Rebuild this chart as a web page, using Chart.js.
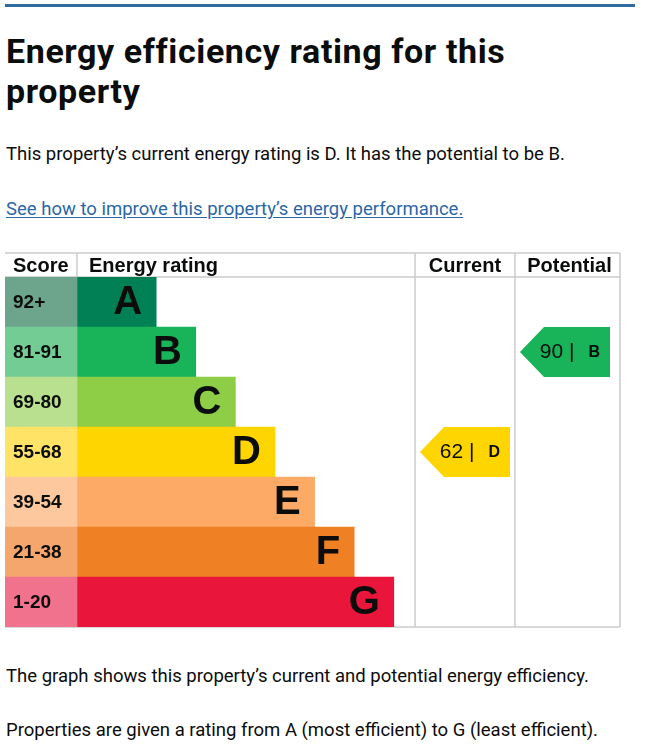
<!DOCTYPE html>
<html>
<head>
<meta charset="utf-8">
<script src="https://cdn.jsdelivr.net/npm/chart.js@4.4.0/dist/chart.umd.min.js"></script>
<style>
  html, body { margin: 0; padding: 0; background: #fff; }
  body { width: 649px; height: 749px; position: relative; overflow: hidden; color: #0b0c0c; font-family: Roboto, "Noto Sans", sans-serif; }
  .rule { position: absolute; left: 5px; top: 4px; width: 630px; height: 3px; background: #2f6b9e; }
  h1 { position: absolute; left: 6px; top: 31px; margin: 0; font-size: 34px; line-height: 40px; font-weight: 700; letter-spacing: 0.6px; }
  .txt { position: absolute; left: 6px; margin: 0; font-size: 18.5px; line-height: 18.5px; letter-spacing: 0; white-space: nowrap; }
  a { color: #2b67a5; text-decoration: underline; text-underline-offset: 2px; }
  #epc { position: absolute; left: 5px; top: 252px; }
</style>
</head>
<body>
<div class="rule"></div>
<h1>Energy efficiency rating for this<br>property</h1>
<p class="txt" style="top:145px">This property’s current energy rating is D. It has the potential to be B.</p>
<p class="txt" style="top:200px"><a href="#">See how to improve this property’s energy performance.</a></p>
<canvas id="epc" width="617" height="376"></canvas>
<p class="txt" style="top:667px">The graph shows this property’s current and potential energy efficiency.</p>
<p class="txt" style="top:721px">Properties are given a rating from A (most efficient) to G (least efficient).</p>

<script>
const ratingBands = ["A", "B", "C", "D", "E", "F", "G"];
const scoreRanges = ["92+", "81-91", "69-80", "55-68", "39-54", "21-38", "1-20"];
const barLengths = [2, 3, 4, 5, 6, 7, 8];

const currentScore = 62;
const currentBand = "D";
const potentialScore = 90;
const potentialBand = "B";

const BAND_COLORS = ["#008054", "#19b459", "#8dce46", "#ffd500", "#fcaa65", "#ef8023", "#e9153b"];
const SCORE_COLORS = ["#6da58c", "#74cc95", "#b9e08e", "#ffe366", "#fdc89e", "#f5a66c", "#f0728c"];

// x scale units: 0 = start of the rating bars, score column to the left
const X_MIN = -1.818;
const X_MAX = 13.712;
const COL_CURRENT = 8.535;
const COL_POTENTIAL = 11.06;
const LABEL_FONT = '"Liberation Sans", Arial, sans-serif';
const LINE_COLOR = "#cbcbcb";

const epcPlugin = {
  id: "epc",
  beforeDatasetsDraw(chart) {
    const { ctx, chartArea } = chart;
    const x = chart.scales.x;
    ctx.save();
    ctx.strokeStyle = LINE_COLOR;
    ctx.lineWidth = 1.5;
    ctx.beginPath();
    // table top and header bottom
    ctx.moveTo(chartArea.left, 1);
    ctx.lineTo(chartArea.right, 1);
    ctx.moveTo(chartArea.left, chartArea.top);
    ctx.lineTo(chartArea.right, chartArea.top);
    ctx.moveTo(chartArea.left, chartArea.bottom);
    ctx.lineTo(chartArea.right, chartArea.bottom);
    // header divider between score and rating
    ctx.moveTo(x.getPixelForValue(0), 1);
    ctx.lineTo(x.getPixelForValue(0), chartArea.top);
    [COL_CURRENT, COL_POTENTIAL].forEach((v) => {
      ctx.moveTo(x.getPixelForValue(v), 1);
      ctx.lineTo(x.getPixelForValue(v), chartArea.bottom);
    });
    ctx.moveTo(chartArea.right, 1);
    ctx.lineTo(chartArea.right, chartArea.bottom);
    ctx.stroke();
    ctx.restore();
  },
  afterDatasetsDraw(chart) {
    const { ctx, chartArea } = chart;
    const x = chart.scales.x;
    const bars = chart.getDatasetMeta(1).data;
    ctx.save();
    ctx.fillStyle = "#0b0c0c";

    // header
    ctx.font = "bold 20px " + LABEL_FONT;
    ctx.textBaseline = "alphabetic";
    ctx.textAlign = "left";
    ctx.fillText("Score", 8, 20);
    ctx.fillText("Energy rating", x.getPixelForValue(0) + 12, 20);
    ctx.textAlign = "center";
    ctx.fillText("Current", (x.getPixelForValue(COL_CURRENT) + x.getPixelForValue(COL_POTENTIAL)) / 2, 20);
    ctx.fillText("Potential", (x.getPixelForValue(COL_POTENTIAL) + chartArea.right) / 2 + 2, 20);

    // score ranges and band letters
    ctx.textBaseline = "middle";
    bars.forEach((bar, i) => {
      ctx.textAlign = "left";
      ctx.font = "bold 19px " + LABEL_FONT;
      ctx.fillText(scoreRanges[i], 8, bar.y + 1);
      ctx.textAlign = "right";
      ctx.font = "bold 40px " + LABEL_FONT;
      ctx.fillText(ratingBands[i], bar.x - 14, bar.y + 1);
    });

    // current / potential arrows
    const drawArrow = (colStart, score, band) => {
      const i = ratingBands.indexOf(band);
      const bar = bars[i];
      const x1 = x.getPixelForValue(colStart) + 5;
      const x2 = x1 + 90;
      const tip = 24;
      const top = bar.y - bar.height / 2;
      const bottom = bar.y + bar.height / 2;
      ctx.fillStyle = BAND_COLORS[i];
      ctx.beginPath();
      ctx.moveTo(x1, bar.y);
      ctx.lineTo(x1 + tip, top);
      ctx.lineTo(x2, top);
      ctx.lineTo(x2, bottom);
      ctx.lineTo(x1 + tip, bottom);
      ctx.closePath();
      ctx.fill();
      ctx.fillStyle = "#0b0c0c";
      ctx.textAlign = "right";
      ctx.font = "bold 16px " + LABEL_FONT;
      ctx.fillText(band, x2 - 10, bar.y + 1);
      const w = ctx.measureText(band).width;
      ctx.font = "21px " + LABEL_FONT;
      ctx.fillText(score + " |", x2 - 10 - w - 14, bar.y);
    };
    drawArrow(COL_CURRENT, currentScore, currentBand);
    drawArrow(COL_POTENTIAL, potentialScore, potentialBand);
    ctx.restore();
  },
};

const epcChart = new Chart(document.getElementById("epc"), {
  type: "bar",
  data: {
    labels: ratingBands,
    datasets: [
      {
        label: "Score",
        data: ratingBands.map(() => [X_MIN, 0]),
        backgroundColor: SCORE_COLORS,
        grouped: false,
        barPercentage: 1,
        categoryPercentage: 1,
      },
      {
        label: "Energy rating",
        data: barLengths.map((v) => [0, v]),
        backgroundColor: BAND_COLORS,
        grouped: false,
        barPercentage: 1,
        categoryPercentage: 1,
      },
    ],
  },
  options: {
    indexAxis: "y",
    responsive: false,
    animation: false,
    layout: { padding: { top: 25, bottom: 1, left: 0, right: 2 } },
    scales: {
      x: { type: "linear", min: X_MIN, max: X_MAX, display: false },
      y: { display: false },
    },
    plugins: {
      legend: { display: false },
      tooltip: { enabled: false },
    },
  },
  plugins: [epcPlugin],
});
</script>
</body>
</html>
